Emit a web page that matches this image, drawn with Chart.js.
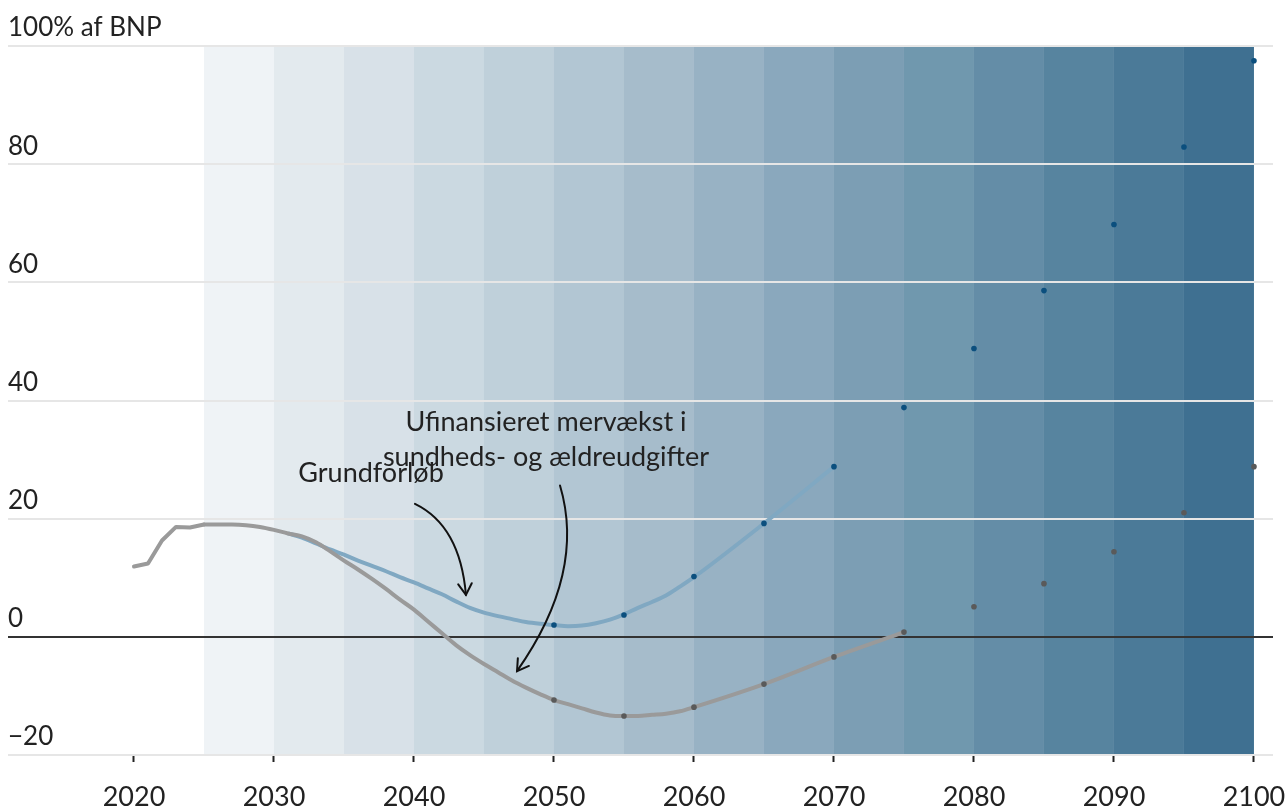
<!DOCTYPE html>
<html>
<head>
<meta charset="utf-8">
<script src="https://cdn.jsdelivr.net/npm/chart.js@4"></script>
<style>
  html, body { margin: 0; padding: 0; background: #fff; }
  canvas { display: block; }
</style>
</head>
<body>
<canvas id="myChart" width="1288" height="806"></canvas>
<script>
// Grundforløb (grey line)
const baseYears = [2020, 2021, 2022, 2023, 2024, 2025, 2026, 2027, 2028, 2029, 2030, 2031, 2032, 2033, 2034, 2035, 2036, 2037, 2038, 2039, 2040,
    2041, 2042, 2043, 2044, 2045, 2046, 2047, 2048, 2049, 2050, 2051, 2052, 2053, 2054, 2055, 2056, 2057, 2058, 2059, 2060, 2065, 2070, 2075];
const baseValues = [11.9, 12.4, 16.3, 18.6, 18.5, 19.0, 19.0, 19.0, 18.9, 18.6, 18.1, 17.5, 17.0, 16.0, 14.5, 12.9, 11.4, 9.8, 8.1, 6.3, 4.6,
    2.6, 0.6, -1.4, -3.1, -4.6, -6.0, -7.4, -8.6, -9.7, -10.7, -11.4, -12.1, -12.8, -13.3, -13.4, -13.4, -13.2, -13.0, -12.6, -11.9, -8.0, -3.4, 0.8];

// Ufinansieret mervækst (blue line)
const growthYears = [2031, 2032, 2033, 2034, 2035, 2036, 2037, 2038, 2039, 2040, 2041, 2042, 2043, 2044, 2045, 2046, 2047, 2048, 2049, 2050,
    2051, 2052, 2053, 2054, 2055, 2056, 2057, 2058, 2059, 2060, 2065, 2070];
const growthValues = [17.5, 16.8, 15.8, 14.8, 13.9, 12.9, 12.0, 11.1, 10.1, 9.2, 8.2, 7.2, 6.0, 4.9, 4.1, 3.5, 3.0, 2.5, 2.2, 2.0,
    1.8, 1.9, 2.3, 2.9, 3.8, 4.9, 5.9, 7.0, 8.5, 10.1, 19.2, 28.8];

// 5-year markers
const dotYears = [2050, 2055, 2060, 2065, 2070, 2075, 2080, 2085, 2090, 2095, 2100];
const baseDots = [-10.7, -13.4, -11.9, -8.0, -3.4, 0.8, 5.1, 9.0, 14.4, 21.0, 28.8];
const growthDots = [2.0, 3.7, 10.2, 19.2, 28.8, 38.8, 48.8, 58.6, 69.8, 82.9, 97.5];

// shaded 5-year periods
const bandStarts = [2025, 2030, 2035, 2040, 2045, 2050, 2055, 2060, 2065, 2070, 2075, 2080, 2085, 2090, 2095];
const bandColors = ["#eff3f6", "#e3eaee", "#d8e1e8", "#cbd9e1", "#bfd0da", "#b2c6d3", "#a6bccb", "#98b2c4",
    "#8aa8bd", "#7c9eb4", "#7098ae", "#648da7", "#57849f", "#4b7a98", "#3f7091"];

const xTicks = [2020, 2030, 2040, 2050, 2060, 2070, 2080, 2090, 2100];
const yTicks = [-20, 0, 20, 40, 60, 80, 100];

const FONT = "Lato";

const toPoints = (xs, ys) => xs.map((x, i) => ({ x: x, y: ys[i] }));
// the first years are drawn as straight segments, the rest smoothed
const SPLIT = 5;

const bandsPlugin = {
    id: "bands",
    beforeDraw(chart) {
        const { ctx, scales } = chart;
        const x = scales.x, y = scales.y;
        ctx.save();
        bandStarts.forEach((start, i) => {
            const x0 = x.getPixelForValue(start);
            const x1 = x.getPixelForValue(start + 5);
            const y0 = y.getPixelForValue(100);
            const y1 = y.getPixelForValue(-20);
            ctx.fillStyle = bandColors[i];
            ctx.fillRect(x0, y0, x1 - x0, y1 - y0);
        });
        ctx.restore();
    },
};

const notesPlugin = {
    id: "notes",
    afterDatasetsDraw(chart) {
        const { ctx, scales } = chart;
        const px = (v) => scales.x.getPixelForValue(v);
        const py = (v) => scales.y.getPixelForValue(v);
        ctx.save();
        ctx.fillStyle = "#222";
        ctx.font = `27px ${FONT}`;
        ctx.textAlign = "center";
        ctx.textBaseline = "middle";
        ctx.fillText("Grundforløb", px(2036.93), py(27.7));
        ctx.fillText("Ufinansieret mervækst i", px(2049.43), py(36.3));
        ctx.fillText("sundheds- og ældreudgifter", px(2049.43), py(30.4));

        const arrow = (p0, c, p2) => {
            const a = [px(p0[0]), py(p0[1])], b = [px(c[0]), py(c[1])], e = [px(p2[0]), py(p2[1])];
            ctx.strokeStyle = "#111";
            ctx.lineWidth = 2;
            ctx.lineCap = "round";
            ctx.beginPath();
            ctx.moveTo(a[0], a[1]);
            ctx.quadraticCurveTo(b[0], b[1], e[0], e[1]);
            ctx.stroke();
            const ang = Math.atan2(e[1] - b[1], e[0] - b[0]);
            const len = 13;
            ctx.beginPath();
            ctx.moveTo(e[0] - len * Math.cos(ang - 0.55), e[1] - len * Math.sin(ang - 0.55));
            ctx.lineTo(e[0], e[1]);
            ctx.lineTo(e[0] - len * Math.cos(ang + 0.55), e[1] - len * Math.sin(ang + 0.55));
            ctx.stroke();
        };
        arrow([2040.07, 22.5], [2043.29, 18.8], [2043.71, 7.1]);
        arrow([2050.43, 25.6], [2052.29, 10.8], [2047.36, -5.8]);
        ctx.restore();
    },
};

const greyLine = {
    borderColor: "#9a9a9a",
    borderWidth: 4,
    pointRadius: 0,
    borderJoinStyle: "round",
    borderCapStyle: "round",
};

const ctx = document.getElementById("myChart");
const myChart = new Chart(ctx, {
    type: "line",
    data: {
        datasets: [
            {
                label: "growthDots",
                data: toPoints(dotYears, growthDots),
                showLine: false,
                pointRadius: 2.8,
                pointBackgroundColor: "#0b4f7e",
                pointBorderWidth: 0,
            },
            {
                label: "baseDots",
                data: toPoints(dotYears, baseDots),
                showLine: false,
                pointRadius: 2.8,
                pointBackgroundColor: "#5a5a5a",
                pointBorderWidth: 0,
            },
            {
                ...greyLine,
                label: "Grundforløb (start)",
                data: toPoints(baseYears.slice(0, SPLIT + 1), baseValues.slice(0, SPLIT + 1)),
                tension: 0,
            },
            {
                ...greyLine,
                label: "Grundforløb",
                data: toPoints(baseYears.slice(SPLIT), baseValues.slice(SPLIT)),
                cubicInterpolationMode: "monotone",
            },
            {
                label: "Ufinansieret mervækst",
                data: toPoints(growthYears, growthValues),
                borderColor: "#80a8c2",
                borderWidth: 4,
                pointRadius: 0,
                cubicInterpolationMode: "monotone",
            },
        ],
    },
    options: {
        responsive: false,
        animation: false,
        layout: { padding: { left: 8, right: 15, top: 46, bottom: 0 } },
        plugins: { legend: { display: false }, tooltip: { enabled: false } },
        scales: {
            x: {
                type: "linear",
                min: 2011,
                max: 2101.36,
                afterBuildTicks: (scale) => {
                    scale.ticks = xTicks.map((v) => ({ value: v }));
                },
                afterFit: (scale) => {
                    scale.paddingLeft = 0;
                    scale.paddingRight = 0;
                    scale.height = 51;
                },
                grid: {
                    drawOnChartArea: false,
                    drawTicks: true,
                    tickLength: 7,
                    tickWidth: 2,
                    tickColor: "#222",
                },
                border: { display: false },
                ticks: {
                    color: "#222",
                    padding: 19,
                    maxRotation: 0,
                    font: { family: FONT, size: 27 },
                    callback: (v) => String(v),
                },
            },
            y: {
                min: -20,
                max: 100,
                afterBuildTicks: (scale) => {
                    scale.ticks = yTicks.map((v) => ({ value: v }));
                },
                grid: {
                    drawTicks: false,
                    color: (c) => (c.tick && c.tick.value === 0 ? "#333" : "#e6e6e6"),
                    lineWidth: 2,
                },
                border: { display: false },
                ticks: {
                    mirror: true,
                    padding: 0,
                    labelOffset: -18,
                    color: "#222",
                    font: { family: FONT, size: 26 },
                    callback: (v) => (v === 100 ? "100% af BNP" : v < 0 ? "\u2212" + Math.abs(v) : String(v)),
                },
            },
        },
    },
    plugins: [bandsPlugin, notesPlugin],
});
</script>
</body>
</html>
